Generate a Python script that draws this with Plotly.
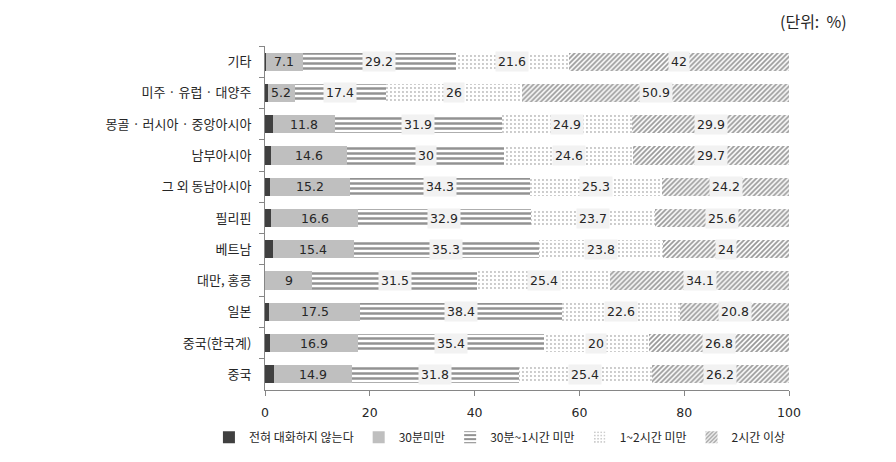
import plotly.graph_objects as go

categories = ["기타", "미주 · 유럽 · 대양주", "몽골 · 러시아 · 중앙아시아", "남부아시아", "그 외 동남아시아",
              "필리핀", "베트남", "대만, 홍콩", "일본", "중국(한국계)", "중국"]
none_vals = [0.1, 0.5, 1.5, 1.1, 1.0, 1.2, 1.5, 0.0, 0.7, 0.9, 1.7]
under30 = [7.1, 5.2, 11.8, 14.6, 15.2, 16.6, 15.4, 9, 17.5, 16.9, 14.9]
m30_1h = [29.2, 17.4, 31.9, 30, 34.3, 32.9, 35.3, 31.5, 38.4, 35.4, 31.8]
h1_2 = [21.6, 26, 24.9, 24.6, 25.3, 23.7, 23.8, 25.4, 22.6, 20, 25.4]
h2plus = [42, 50.9, 29.9, 29.7, 24.2, 25.6, 24, 34.1, 20.8, 26.8, 26.2]
series_names = ["전혀 대화하지 않는다", "30분미만", "30분~1시간 미만", "1~2시간 미만", "2시간 이상"]
x_ticks = [0, 20, 40, 60, 80, 100]

series = [none_vals, under30, m30_1h, h1_2, h2plus]
styles = [
    dict(color="#404040"),
    dict(color="#bfbfbf"),
    dict(color="white", pattern=dict(shape="-", fgcolor="#262626", bgcolor="white", size=5, solidity=0.5, fillmode="overlay")),
    dict(color="white", pattern=dict(shape=".", fgcolor="#737373", bgcolor="white", size=4, solidity=0.18, fillmode="overlay")),
    dict(color="white", pattern=dict(shape="/", fgcolor="#333333", bgcolor="white", size=3.5, solidity=0.5, fillmode="overlay")),
]

fig = go.Figure()
for name, vals, st in zip(series_names, series, styles):
    fig.add_trace(go.Bar(
        y=categories, x=vals, name=name, orientation="h",
        marker=dict(line=dict(width=0), **st),
        hoverinfo="x+name",
    ))

annotations = []
for i, cat in enumerate(categories):
    base = none_vals[i]
    for k, vals in enumerate(series[1:], start=1):
        v = vals[i]
        label = f"{v:g}"
        annotations.append(dict(
            x=base + v / 2, y=cat, xref="x", yref="y", text=label, showarrow=False,
            font=dict(family="DejaVu Sans", size=12.5, color="#262626"),
            bgcolor=None if k == 1 else "#f2f2f2", borderpad=2,
        ))
        base += v

annotations.append(dict(
    x=1.0, y=1.0, xref="paper", yref="paper", xanchor="right", yanchor="bottom",
    text="(단위:  %)", showarrow=False, yshift=11, xshift=60,
    font=dict(family="Noto Sans CJK KR", size=16, color="#262626"),
))

fig.update_layout(
    width=896, height=462,
    margin=dict(l=265, r=107, t=46, b=72, autoexpand=False),
    barmode="stack", bargap=0.42,
    plot_bgcolor="white", paper_bgcolor="white",
    font=dict(family="Noto Sans CJK KR", size=13, color="#262626"),
    annotations=annotations,
    legend=dict(orientation="h", xref="paper", yref="paper",
                x=-0.107, xanchor="left", y=-0.137, yanchor="middle",
                font=dict(family="Noto Sans CJK KR", size=12, color="#262626"),
                traceorder="normal", itemwidth=30, tracegroupgap=0),
    showlegend=True,
)
fig.update_xaxes(range=[0, 100], tickvals=x_ticks, showgrid=False, zeroline=False,
                 showline=True, linecolor="#868686", ticks="outside", tickcolor="#868686",
                 ticklen=5, ticklabelstandoff=6,
                 tickfont=dict(family="DejaVu Sans", size=12.5, color="#262626"))
fig.update_yaxes(autorange="reversed", showgrid=False, showline=True, linecolor="#868686",
                 ticks="outside", tickson="boundaries", tickcolor="#868686", ticklen=5,
                 ticklabelstandoff=10,
                 tickfont=dict(family="Noto Sans CJK KR", size=13, color="#262626"))

fig.write_html("out.html")
